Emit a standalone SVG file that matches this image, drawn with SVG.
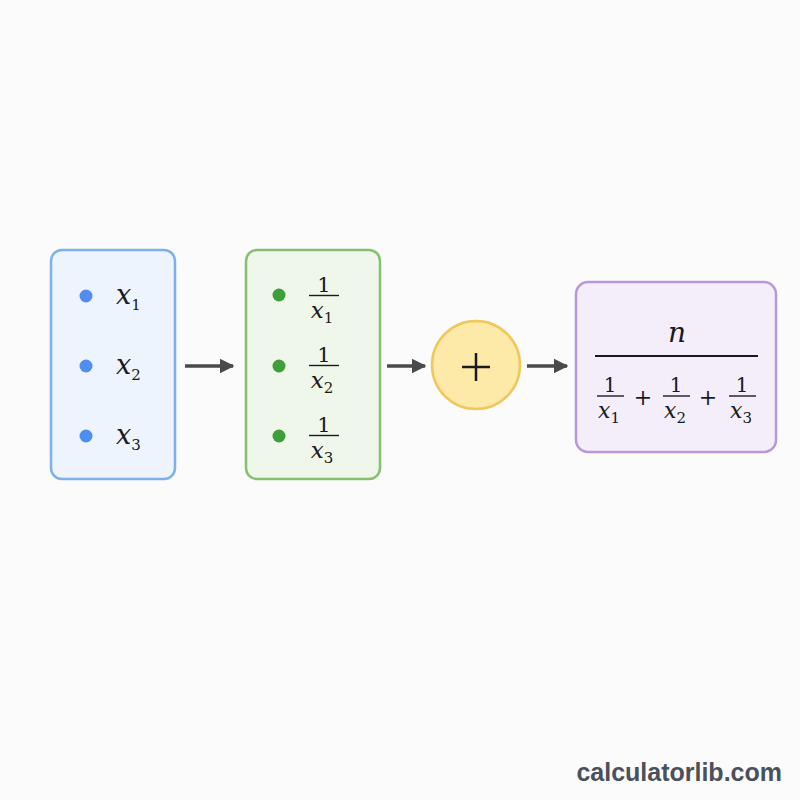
<svg xmlns="http://www.w3.org/2000/svg" width="800" height="800" viewBox="0 0 800 800">
<defs>
<style>
.m{font-family:"DejaVu Serif","Liberation Serif",serif;fill:#1a1a1a}
.v{font-style:italic}
.s{font-size:15px}
.bar{stroke:#1a1a1a;stroke-width:1.4}
.conn{stroke:#4a4a4a;stroke-width:3.5;fill:none}
</style>
<marker id="ah" viewBox="0 0 10 10" refX="9" refY="5" markerWidth="4.2" markerHeight="4.2" orient="auto" markerUnits="strokeWidth">
<path d="M0,0 L10,5 L0,10 z" fill="#4a4a4a"/>
</marker>
</defs>
<rect width="800" height="800" fill="#fbfbfc"/>
<g id="inputs">
<rect x="51" y="250" width="124" height="229" rx="11" fill="#eef4fd" stroke="#7eb0ea" stroke-width="2.5"/>
<circle cx="86" cy="296" r="6.5" fill="#4f8ef0"/>
<circle cx="86" cy="366" r="6.5" fill="#4f8ef0"/>
<circle cx="86" cy="436" r="6.5" fill="#4f8ef0"/>
<text class="m v" x="116" y="304" font-size="27">x<tspan class="s" font-style="normal" dy="6">1</tspan></text>
<text class="m v" x="116" y="374" font-size="27">x<tspan class="s" font-style="normal" dy="6">2</tspan></text>
<text class="m v" x="116" y="444" font-size="27">x<tspan class="s" font-style="normal" dy="6">3</tspan></text>
</g>
<g id="reciprocals">
<rect x="246" y="250" width="134" height="229" rx="11" fill="#eef7ea" stroke="#84c070" stroke-width="2.5"/>
<circle cx="279" cy="295" r="6.5" fill="#3f9e3a"/>
<circle cx="279" cy="366" r="6.5" fill="#3f9e3a"/>
<circle cx="279" cy="436" r="6.5" fill="#3f9e3a"/>
<g text-anchor="middle">
<text class="m" x="324" y="292" font-size="21">1</text>
<line class="bar" x1="309" y1="295.5" x2="339" y2="295.5"/>
<text class="m v" x="322" y="318" font-size="23">x<tspan class="s" font-style="normal" dy="5">1</tspan></text>
<text class="m" x="324" y="362" font-size="21">1</text>
<line class="bar" x1="309" y1="365.5" x2="339" y2="365.5"/>
<text class="m v" x="322" y="388" font-size="23">x<tspan class="s" font-style="normal" dy="5">2</tspan></text>
<text class="m" x="324" y="432" font-size="21">1</text>
<line class="bar" x1="309" y1="435.5" x2="339" y2="435.5"/>
<text class="m v" x="322" y="458" font-size="23">x<tspan class="s" font-style="normal" dy="5">3</tspan></text>
</g>
</g>
<g id="sum">
<circle cx="476" cy="365" r="44" fill="#fde9a8" stroke="#f0c75a" stroke-width="2.5"/>
<line x1="462" y1="367" x2="490" y2="367" stroke="#1a1a1a" stroke-width="2.5"/>
<line x1="476" y1="353" x2="476" y2="381" stroke="#1a1a1a" stroke-width="2.5"/>
</g>
<g id="result">
<rect x="576" y="282" width="200" height="170" rx="12" fill="#f3eefa" stroke="#b797de" stroke-width="2.5"/>
<text class="m v" x="677" y="342" font-size="28" text-anchor="middle">n</text>
<line x1="595" y1="356" x2="758" y2="356" stroke="#1a1a1a" stroke-width="2"/>
<g text-anchor="middle">
<text class="m" x="610" y="392" font-size="20">1</text>
<line class="bar" x1="597" y1="396" x2="624" y2="396"/>
<text class="m v" x="609" y="418" font-size="22">x<tspan class="s" font-style="normal" dy="5">1</tspan></text>
<text class="m" x="643" y="405" font-size="22">+</text>
<text class="m" x="676" y="392" font-size="20">1</text>
<line class="bar" x1="663" y1="396" x2="690" y2="396"/>
<text class="m v" x="675" y="418" font-size="22">x<tspan class="s" font-style="normal" dy="5">2</tspan></text>
<text class="m" x="708" y="405" font-size="22">+</text>
<text class="m" x="742" y="392" font-size="20">1</text>
<line class="bar" x1="729" y1="396" x2="756" y2="396"/>
<text class="m v" x="741" y="418" font-size="22">x<tspan class="s" font-style="normal" dy="5">3</tspan></text>
</g>
</g>
<g id="connectors">
<line class="conn" x1="185" y1="366" x2="233" y2="366" marker-end="url(#ah)"/>
<line class="conn" x1="387" y1="366" x2="425" y2="366" marker-end="url(#ah)"/>
<line class="conn" x1="527" y1="366" x2="567" y2="366" marker-end="url(#ah)"/>
</g>
<text x="782" y="781" text-anchor="end" font-family="Liberation Sans, Arial, sans-serif" font-weight="bold" font-size="25" fill="#4a505c">calculatorlib.com</text>
</svg>
